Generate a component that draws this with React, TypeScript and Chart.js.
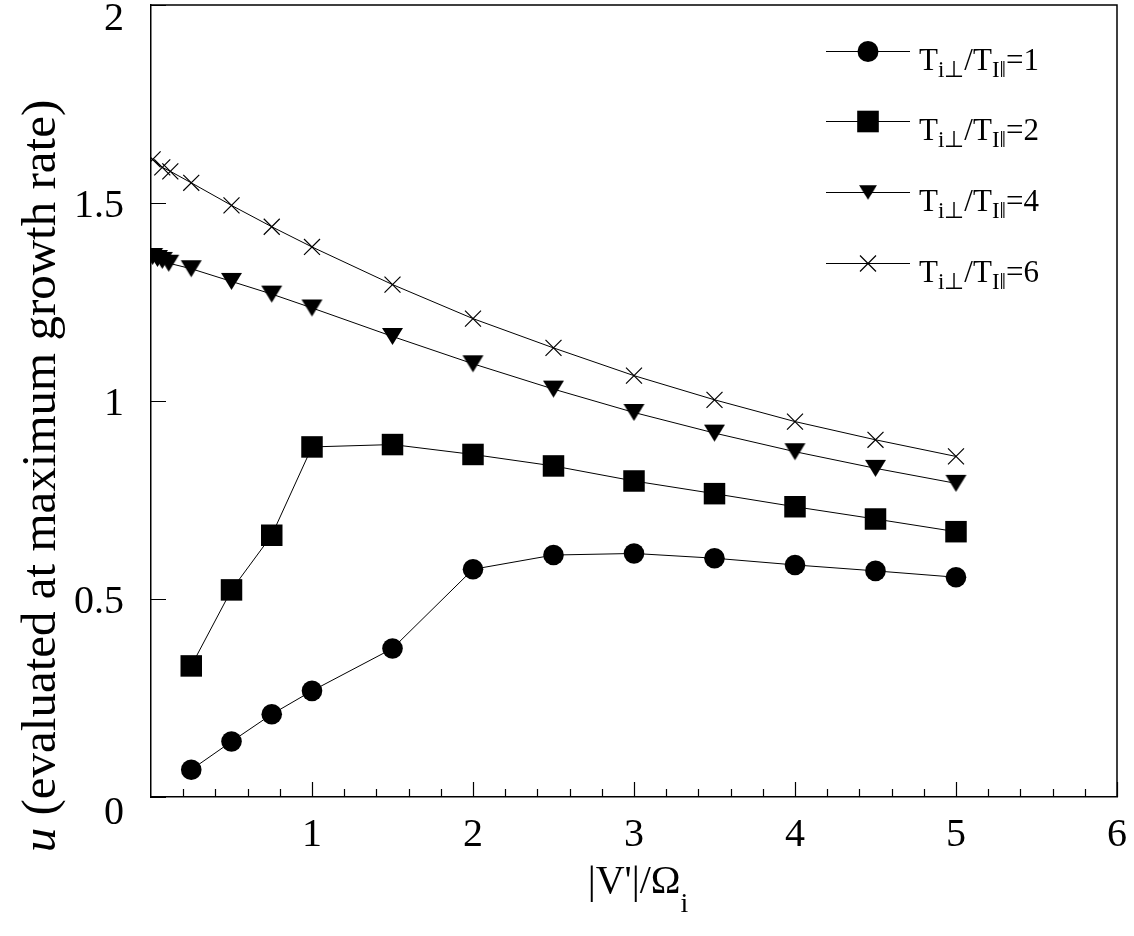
import React, { useEffect, useRef } from 'react';
import { Chart, registerables } from 'chart.js';

Chart.register(...registerables);

const SERIF = '"Liberation Serif", "Times New Roman", Times, serif';

// Temperature-anisotropy ratios shown in the legend
const ratios = ['1', '2', '4', '6'];

// |V'|/Omega_i values and u at maximum growth rate for each ratio
const v1 = [0.25, 0.5, 0.75, 1, 1.5, 2, 2.5, 3, 3.5, 4, 4.5, 5];
const u1 = [0.069, 0.14, 0.209, 0.268, 0.375, 0.575, 0.611, 0.615, 0.603, 0.586, 0.571, 0.555];

const v2 = [0.25, 0.5, 0.75, 1, 1.5, 2, 2.5, 3, 3.5, 4, 4.5, 5];
const u2 = [0.331, 0.523, 0.661, 0.884, 0.89, 0.865, 0.836, 0.798, 0.766, 0.733, 0.702, 0.67];

const v4 = [0.01, 0.04, 0.07, 0.11, 0.25, 0.5, 0.75, 1, 1.5, 2, 2.5, 3, 3.5, 4, 4.5, 5];
const u4 = [1.365, 1.36, 1.355, 1.348, 1.334, 1.302, 1.27, 1.235, 1.163, 1.094, 1.03, 0.971, 0.919, 0.872, 0.83, 0.792];

const v6 = [0.01, 0.07, 0.12, 0.25, 0.5, 0.75, 1, 1.5, 2, 2.5, 3, 3.5, 4, 4.5, 5];
const u6 = [1.61, 1.59, 1.58, 1.551, 1.494, 1.44, 1.389, 1.294, 1.208, 1.134, 1.064, 1.003, 0.948, 0.902, 0.86];

// Axis ranges and tick steps
const X_MIN = 0;
const X_MAX = 6;
const X_STEP = 1;
const X_MINOR_STEP = 0.2;
const Y_MIN = 0;
const Y_MAX = 2;
const Y_STEP = 0.5;

const toPoints = (xs: number[], ys: number[]) => xs.map((x, i) => ({ x, y: ys[i] }));

// Downward triangle marker, centred in its own box
function makeTriangle(w: number, h: number): HTMLCanvasElement {
  const c = document.createElement('canvas');
  c.width = w + 2;
  c.height = h + 2;
  const g = c.getContext('2d')!;
  g.fillStyle = '#000';
  g.beginPath();
  g.moveTo(1, 1);
  g.lineTo(w + 1, 1);
  g.lineTo(w / 2 + 1, h + 1);
  g.closePath();
  g.fill();
  return c;
}

type MarkerKind = 'circle' | 'rect' | 'tri' | 'cross';
const legendKinds: MarkerKind[] = ['circle', 'rect', 'tri', 'cross'];

function drawMarker(ctx: CanvasRenderingContext2D, kind: MarkerKind, x: number, y: number, tri: HTMLCanvasElement) {
  ctx.save();
  ctx.fillStyle = '#000';
  ctx.strokeStyle = '#000';
  if (kind === 'circle') {
    ctx.beginPath();
    ctx.arc(x, y, 10.5, 0, Math.PI * 2);
    ctx.fill();
  } else if (kind === 'rect') {
    ctx.fillRect(x - 10.8, y - 10.8, 21.6, 21.6);
  } else if (kind === 'tri') {
    const w = tri.width * 0.85;
    const h = tri.height * 0.85;
    ctx.drawImage(tri, x - w / 2, y - h / 2, w, h);
  } else {
    ctx.lineWidth = 1.2;
    ctx.beginPath();
    ctx.moveTo(x - 8, y - 8);
    ctx.lineTo(x + 8, y + 8);
    ctx.moveTo(x + 8, y - 8);
    ctx.lineTo(x - 8, y + 8);
    ctx.stroke();
  }
  ctx.restore();
}

type Run = { t: string; sub?: boolean };

function drawRuns(ctx: CanvasRenderingContext2D, runs: Run[], x: number, y: number, size: number, subSize: number, subDrop: number) {
  let cx = x;
  for (const r of runs) {
    ctx.font = `${r.sub ? subSize : size}px ${SERIF}`;
    ctx.fillText(r.t, cx, r.sub ? y + subDrop : y);
    cx += ctx.measureText(r.t).width;
  }
  return cx;
}

function measureRuns(ctx: CanvasRenderingContext2D, runs: Run[], size: number, subSize: number) {
  let w = 0;
  for (const r of runs) {
    ctx.font = `${r.sub ? subSize : size}px ${SERIF}`;
    w += ctx.measureText(r.t).width;
  }
  return w;
}

export default function App() {
  const canvasRef = useRef<HTMLCanvasElement | null>(null);

  useEffect(() => {
    const canvas = canvasRef.current;
    if (!canvas) return;
    const tri = makeTriangle(21, 17);

    const decorations = {
      id: 'decorations',
      afterDraw(chart: any) {
        const ctx: CanvasRenderingContext2D = chart.ctx;
        const { left, right, top, bottom } = chart.chartArea;
        const xs = chart.scales.x;
        const ys = chart.scales.y;
        ctx.save();

        // frame on the top and right
        ctx.strokeStyle = '#000';
        ctx.lineWidth = 1.5;
        ctx.beginPath();
        ctx.moveTo(left, top);
        ctx.lineTo(right, top);
        ctx.lineTo(right, bottom);
        ctx.stroke();

        // inward tick marks on x (major + minor)
        ctx.lineWidth = 1.2;
        ctx.beginPath();
        const nMinor = Math.round((X_MAX - X_MIN) / X_MINOR_STEP);
        for (let i = 1; i <= nMinor; i++) {
          const v = X_MIN + i * X_MINOR_STEP;
          const px = Math.round(xs.getPixelForValue(v)) + 0.5;
          const major = Math.abs(v / X_STEP - Math.round(v / X_STEP)) < 1e-6;
          const len = major ? 15 : 8;
          ctx.moveTo(px, bottom);
          ctx.lineTo(px, bottom - len);
        }
        // inward tick marks on y
        for (const t of ys.ticks) {
          const py = Math.round(ys.getPixelForValue(t.value)) + 0.5;
          ctx.moveTo(left, py);
          ctx.lineTo(left + 15, py);
        }
        ctx.stroke();

        // y tick labels; the end labels sit just inside the axis range
        ctx.fillStyle = '#000';
        ctx.font = `40px ${SERIF}`;
        ctx.textAlign = 'right';
        ctx.textBaseline = 'alphabetic';
        const n = ys.ticks.length;
        ys.ticks.forEach((t: any, i: number) => {
          const py = ys.getPixelForValue(t.value);
          const base = i === 0 ? py + 27 : i === n - 1 ? py + 25 : py + 13.5;
          ctx.fillText(String(t.value), left - 27, base);
        });

        // x axis title: |V'|/Ω_i
        ctx.textAlign = 'left';
        const xRuns: Run[] = [{ t: "|V'|/Ω" }, { t: 'i', sub: true }];
        const xw = measureRuns(ctx, xRuns, 40, 28);
        drawRuns(ctx, xRuns, (left + right) / 2 - xw / 2 + 4, 893, 40, 28, 19);

        // y axis title, italic u
        ctx.save();
        ctx.translate(55, 476);
        ctx.rotate(-Math.PI / 2);
        ctx.font = `italic 49px ${SERIF}`;
        const uW = ctx.measureText('u').width;
        ctx.font = `49px ${SERIF}`;
        const rest = ' (evaluated at maximum growth rate)';
        const rW = ctx.measureText(rest).width;
        const start = -(uW + rW) / 2;
        ctx.font = `italic 49px ${SERIF}`;
        ctx.fillText('u', start, 0);
        ctx.font = `49px ${SERIF}`;
        ctx.fillText(rest, start + uW, 0);
        ctx.restore();

        // legend
        const rowY = [51, 121, 192, 263];
        ratios.forEach((r, i) => {
          const y = rowY[i];
          ctx.strokeStyle = '#000';
          ctx.lineWidth = 1;
          ctx.beginPath();
          ctx.moveTo(826, y + 0.5);
          ctx.lineTo(910, y + 0.5);
          ctx.stroke();
          drawMarker(ctx, legendKinds[i], 868, y + 0.5, tri);
          ctx.fillStyle = '#000';
          drawRuns(
            ctx,
            [{ t: 'T' }, { t: 'i⊥', sub: true }, { t: '/T' }, { t: 'I‖', sub: true }, { t: '=' + r }],
            919,
            y + 19,
            31,
            23,
            7
          );
        });

        ctx.restore();
      },
    };

    const line = { borderColor: '#000', borderWidth: 1, showLine: true, tension: 0 };

    const chart = new Chart(canvas, {
      type: 'scatter',
      data: {
        datasets: [
          {
            ...line,
            data: toPoints(v1, u1),
            pointStyle: 'circle',
            pointRadius: 10.3,
            pointBackgroundColor: '#000',
            pointBorderColor: '#000',
            pointBorderWidth: 0,
          },
          {
            ...line,
            data: toPoints(v2, u2),
            pointStyle: 'rect',
            pointRadius: 15.2,
            pointBackgroundColor: '#000',
            pointBorderColor: '#000',
            pointBorderWidth: 0,
          },
          {
            ...line,
            data: toPoints(v4, u4),
            pointStyle: tri,
            pointRadius: 10,
          },
          {
            ...line,
            data: toPoints(v6, u6),
            pointStyle: 'crossRot',
            pointRadius: 11.3,
            pointBorderColor: '#000',
            pointBorderWidth: 1.2,
          },
        ],
      },
      options: {
        animation: false,
        responsive: true,
        maintainAspectRatio: false,
        devicePixelRatio: 1,
        layout: { autoPadding: false, padding: { left: 0, top: 5, right: 17, bottom: 0 } },
        plugins: { legend: { display: false }, tooltip: { enabled: false } },
        events: [],
        scales: {
          x: {
            type: 'linear',
            min: X_MIN,
            max: X_MAX,
            grid: { display: false, drawTicks: false },
            border: { display: true, color: '#000', width: 1.5 },
            ticks: {
              stepSize: X_STEP,
              padding: 14,
              color: '#000',
              font: { family: SERIF, size: 40 },
              maxRotation: 0,
              callback: (v: any) => (v === 0 ? '' : String(v)),
            },
            afterFit: (s: any) => {
              s.height = 139;
              s.paddingLeft = 0;
              s.paddingRight = 0;
            },
          },
          y: {
            type: 'linear',
            min: Y_MIN,
            max: Y_MAX,
            grid: { display: false, drawTicks: false },
            border: { display: true, color: '#000', width: 1.5 },
            ticks: { stepSize: Y_STEP, display: false },
            afterFit: (s: any) => {
              s.width = 151;
              s.paddingTop = 0;
              s.paddingBottom = 0;
            },
          },
        },
      },
      plugins: [decorations],
    });

    return () => chart.destroy();
  }, []);

  return (
    <div style={{ position: 'absolute', left: 0, top: 0, width: 1134, height: 936, background: '#fff' }}>
      <canvas ref={canvasRef} />
    </div>
  );
}
